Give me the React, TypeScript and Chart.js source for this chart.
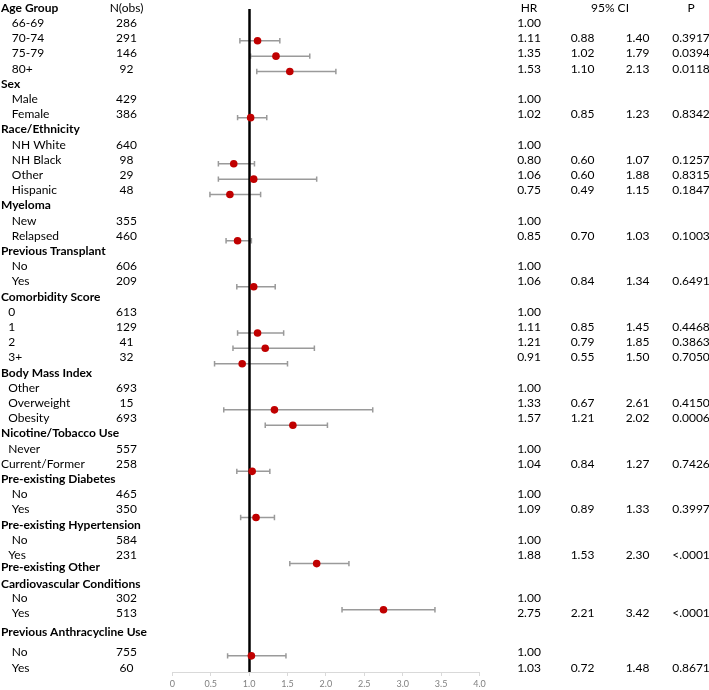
import React, { useEffect, useRef } from "react";
import { Chart, registerables } from "chart.js";

Chart.register(...registerables);

// ---------------- DATA ----------------
const rowLabels: string[] = [
  "Age Group", "   66-69", "   70-74", "   75-79", "   80+",
  "Sex", "   Male", "   Female",
  "Race/Ethnicity", "   NH White", "   NH Black", "   Other", "   Hispanic",
  "Myeloma", "   New", "   Relapsed",
  "Previous Transplant", "   No", "   Yes",
  "Comorbidity Score", "  0", "  1", "  2", "  3+",
  "Body Mass Index", "  Other", "  Overweight", "  Obesity",
  "Nicotine/Tobacco Use", "  Never", "Current/Former",
  "Pre-existing Diabetes", "   No", "   Yes",
  "Pre-existing Hypertension", "   No", "  Yes",
  "Pre-existing Other\nCardiovascular Conditions", "   No", "   Yes",
  "Previous Anthracycline Use", "   No", "   Yes",
];

const nObs: (number | null)[] = [
  null, 286, 291, 146, 92,
  null, 429, 386,
  null, 640, 98, 29, 48,
  null, 355, 460,
  null, 606, 209,
  null, 613, 129, 41, 32,
  null, 693, 15, 693,
  null, 557, 258,
  null, 465, 350,
  null, 584, 231,
  null, 302, 513,
  null, 755, 60,
];

const hazardRatio: (number | null)[] = [
  null, 1.0, 1.11, 1.35, 1.53,
  null, 1.0, 1.02,
  null, 1.0, 0.8, 1.06, 0.75,
  null, 1.0, 0.85,
  null, 1.0, 1.06,
  null, 1.0, 1.11, 1.21, 0.91,
  null, 1.0, 1.33, 1.57,
  null, 1.0, 1.04,
  null, 1.0, 1.09,
  null, 1.0, 1.88,
  null, 1.0, 2.75,
  null, 1.0, 1.03,
];

const ciLower: (number | null)[] = [
  null, null, 0.88, 1.02, 1.1,
  null, null, 0.85,
  null, null, 0.6, 0.6, 0.49,
  null, null, 0.7,
  null, null, 0.84,
  null, null, 0.85, 0.79, 0.55,
  null, null, 0.67, 1.21,
  null, null, 0.84,
  null, null, 0.89,
  null, null, 1.53,
  null, null, 2.21,
  null, null, 0.72,
];

const ciUpper: (number | null)[] = [
  null, null, 1.4, 1.79, 2.13,
  null, null, 1.23,
  null, null, 1.07, 1.88, 1.15,
  null, null, 1.03,
  null, null, 1.34,
  null, null, 1.45, 1.85, 1.5,
  null, null, 2.61, 2.02,
  null, null, 1.27,
  null, null, 1.33,
  null, null, 2.3,
  null, null, 3.42,
  null, null, 1.48,
];

const pValues: (string | null)[] = [
  null, null, "0.3917", "0.0394", "0.0118",
  null, null, "0.8342",
  null, null, "0.1257", "0.8315", "0.1847",
  null, null, "0.1003",
  null, null, "0.6491",
  null, null, "0.4468", "0.3863", "0.7050",
  null, null, "0.4150", "0.0006",
  null, null, "0.7426",
  null, null, "0.3997",
  null, null, "<.0001",
  null, null, "<.0001",
  null, null, "0.8671",
];

const xTickValues: number[] = [0, 0.5, 1, 1.5, 2, 2.5, 3, 3.5, 4];
const referenceHR = 1;
const columnHeaders = { n: "N(obs)", hr: "HR", ci: "95% CI", p: "P" };

// ---------------- LAYOUT / STYLE ----------------
const W = 709;
const H = 690;
const FONT = "Lato, 'Open Sans', 'Liberation Sans', sans-serif";
const FONT_SIZE = 12;
const TEXT_TOP = 8;
const TEXT_PITCH = 15.2;
const TEXT_NUDGE: Record<number, number> = { 37: -3, 38: -1.6, 39: -3, 40: -3, 41: 0.8, 42: 5.6, 43: 6.4 };
const SPACE_PX = 3.6;
const COL_N = 126.5;
const COL_HR = 529;
const COL_LO = 582.5;
const COL_HI = 637.5;
const COL_CI = 610;
const COL_P = 691;
const MARKER_COLOR = "#c00000";
const BAR_COLOR = "#9a9a9a";

const lineY = (line: number) => TEXT_TOP + TEXT_PITCH * line + (TEXT_NUDGE[line] || 0);

const tablePlugin = {
  id: "forestTable",
  afterDraw(chart: any) {
    const ctx = chart.ctx as CanvasRenderingContext2D;
    ctx.save();
    ctx.textBaseline = "middle";
    ctx.fillStyle = "#000";
    ctx.font = `${FONT_SIZE}px ${FONT}`;
    ctx.textAlign = "center";
    ctx.fillText(columnHeaders.n, COL_N, TEXT_TOP);
    ctx.fillText(columnHeaders.hr, COL_HR, TEXT_TOP);
    ctx.fillText(columnHeaders.ci, COL_CI, TEXT_TOP);
    ctx.fillText(columnHeaders.p, COL_P, TEXT_TOP);

    let line = 0;
    rowLabels.forEach((label, i) => {
      const parts = label.split("\n");
      const isHeader = nObs[i] === null;
      parts.forEach((p, j) => {
        const spaces = (p.match(/^ */) as RegExpMatchArray)[0].length;
        ctx.font = `${isHeader ? "bold " : ""}${FONT_SIZE}px ${FONT}`;
        ctx.textAlign = "left";
        ctx.fillText(p.trimStart(), 1 + spaces * SPACE_PX, lineY(line + j));
      });
      const y = lineY(line + parts.length - 1);
      ctx.font = `${FONT_SIZE}px ${FONT}`;
      ctx.textAlign = "center";
      if (nObs[i] !== null) ctx.fillText(String(nObs[i]), COL_N, y);
      if (hazardRatio[i] !== null) ctx.fillText((hazardRatio[i] as number).toFixed(2), COL_HR, y);
      if (ciLower[i] !== null) ctx.fillText((ciLower[i] as number).toFixed(2), COL_LO, y);
      if (ciUpper[i] !== null) ctx.fillText((ciUpper[i] as number).toFixed(2), COL_HI, y);
      if (pValues[i] !== null) ctx.fillText(pValues[i] as string, COL_P, y);
      line += parts.length;
    });
    ctx.restore();
  },
};

const errorBarPlugin = {
  id: "errorBars",
  beforeDatasetsDraw(chart: any) {
    const ctx = chart.ctx as CanvasRenderingContext2D;
    const xs = chart.scales.x;
    const ys = chart.scales.y;
    ctx.save();
    ctx.strokeStyle = BAR_COLOR;
    ctx.lineWidth = 1.5;
    rowLabels.forEach((_, i) => {
      if (ciLower[i] === null || ciUpper[i] === null) return;
      const y = ys.getPixelForValue(i);
      const x1 = xs.getPixelForValue(ciLower[i]);
      const x2 = xs.getPixelForValue(ciUpper[i]);
      ctx.beginPath();
      ctx.moveTo(x1, y);
      ctx.lineTo(x2, y);
      ctx.moveTo(x1, y - 2.7);
      ctx.lineTo(x1, y + 2.7);
      ctx.moveTo(x2, y - 2.7);
      ctx.lineTo(x2, y + 2.7);
      ctx.stroke();
    });
    // reference line
    const xr = Math.round(xs.getPixelForValue(referenceHR)) + 0.5;
    ctx.strokeStyle = "#000";
    ctx.lineWidth = 2.5;
    ctx.beginPath();
    ctx.moveTo(xr, chart.chartArea.top + 5);
    ctx.lineTo(xr, chart.chartArea.bottom);
    ctx.stroke();
    ctx.restore();
  },
};

export default function App() {
  const ref = useRef<HTMLCanvasElement | null>(null);
  useEffect(() => {
    document.body.style.margin = "0";
    if (!ref.current) return;
    const points = rowLabels
      .map((_, i) => (ciLower[i] !== null ? { x: hazardRatio[i] as number, y: i } : null))
      .filter(Boolean) as { x: number; y: number }[];
    const chart = new Chart(ref.current, {
      type: "scatter",
      data: {
        datasets: [
          {
            data: points,
            pointRadius: 3.8,
            pointBackgroundColor: MARKER_COLOR,
            pointBorderColor: MARKER_COLOR,
            pointBorderWidth: 0,
            showLine: false,
          },
        ],
      },
      options: {
        animation: false,
        responsive: false,
        devicePixelRatio: 1,
        layout: { padding: { left: 172.3, right: 229.5, top: 0, bottom: 0 } },
        plugins: { legend: { display: false }, tooltip: { enabled: false } },
        scales: {
          x: {
            type: "linear",
            min: 0,
            max: 4,
            afterBuildTicks: (s: any) => {
              s.ticks = xTickValues.map((v) => ({ value: v }));
            },
            afterFit: (s: any) => {
              s.height = 18;
            },
            grid: { drawOnChartArea: false, drawTicks: true, tickLength: 4, color: "#d9d9d9" },
            border: { display: true, color: "#d9d9d9", width: 1 },
            ticks: { font: { size: 9, family: FONT }, color: "#808080", padding: 3, maxRotation: 0 },
          },
          y: {
            type: "linear",
            reverse: true,
            min: -0.392,
            max: 43.05,
            display: false,
          },
        },
      },
      plugins: [errorBarPlugin, tablePlugin],
    } as any);
    return () => chart.destroy();
  }, []);
  return <canvas ref={ref} width={W} height={H} style={{ display: "block" }} />;
}
